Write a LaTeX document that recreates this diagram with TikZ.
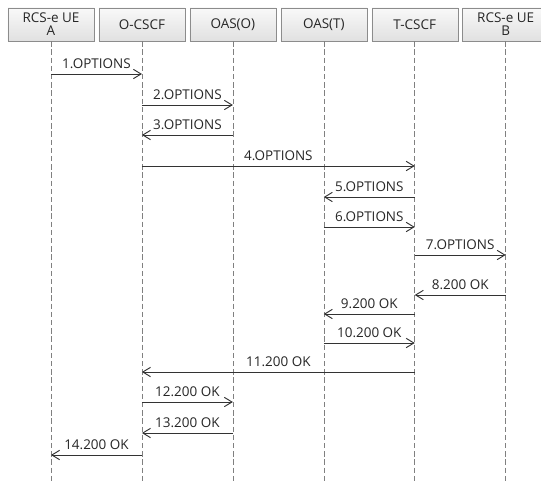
\documentclass[tikz,border=0pt]{standalone}
\usepackage{fontspec}
\setmainfont{Open Sans}
\usetikzlibrary{arrows.meta}
\usetikzlibrary{positioning}

\begin{document}
\begin{tikzpicture}[x=0.03cm,y=-0.03cm,
  font=\fontsize{11.5}{13}\selectfont,
  party/.style={draw=gray!90,top color=gray!5,bottom color=gray!24,minimum width=2.58cm,minimum height=0.99cm,align=center,inner sep=0pt,text=black!85},
  life/.style={gray,dash pattern=on 4.5pt off 2.5pt,line width=0.5pt},
  msg/.style={-{Straight Barb[length=2.3mm,width=2.8mm,line width=0.8pt]},line width=0.75pt,black!80},
  lbl/.style={above=3pt,inner sep=1pt,text=black!85}]
\useasboundingbox (0,0) rectangle (541,481);

% participants
\node[party] (UEA) at (51,24.5) {RCS-e UE\\[-2pt]A};
\node[party,right=0.134cm of UEA] (OCSCF) {O-CSCF};
\node[party,right=0.134cm of OCSCF] (OASO) {OAS(O)};
\node[party,right=0.134cm of OASO] (OAST) {OAS(T)};
\node[party,right=0.134cm of OAST] (TCSCF) {T-CSCF};
\node[party,right=0.134cm of TCSCF] (UEB) {RCS-e UE\\[-2pt]B};

% lifelines
\foreach \p in {UEA,OCSCF,OASO,OAST,TCSCF,UEB}
  \draw[life] (\p.south) -- (\p.south |- 0,481);

% messages
\foreach \f/\t/\y/\m in {UEA/OCSCF/74/1.OPTIONS, OCSCF/OASO/105/2.OPTIONS,
    OASO/OCSCF/135/3.OPTIONS, OCSCF/TCSCF/166/4.OPTIONS,
    TCSCF/OAST/197/5.OPTIONS, OAST/TCSCF/227/6.OPTIONS,
    TCSCF/UEB/255/7.OPTIONS, UEB/TCSCF/295/8.200 OK,
    TCSCF/OAST/314/9.200 OK, OAST/TCSCF/343/10.200 OK,
    TCSCF/OCSCF/372/11.200 OK, OCSCF/OASO/402/12.200 OK,
    OASO/OCSCF/433/13.200 OK, OCSCF/UEA/455/14.200 OK}
  \draw[msg] (\f |- 0,\y) -- (\t |- 0,\y) node[midway,lbl] {\m};

\end{tikzpicture}
\end{document}
